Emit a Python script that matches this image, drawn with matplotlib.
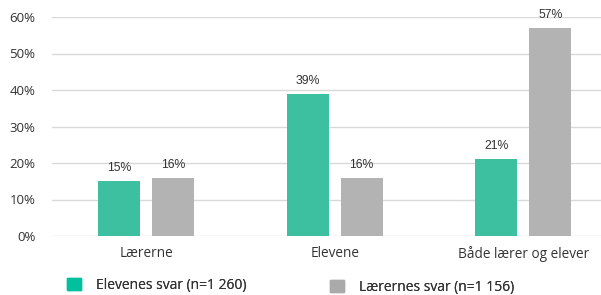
import matplotlib.pyplot as plt
from matplotlib.patches import Patch

categories = ["Lærerne", "Elevene", "Både lærer og elever"]
elever = [15, 39, 21]
laerere = [16, 16, 57]
series_names = ["Elevenes svar (n=1 260)", "Lærernes svar (n=1 156)"]

green = "#3cc09f"
grey = "#b3b3b3"
text_col = "#333333"

plt.rcParams['font.family'] = ['Open Sans', 'DejaVu Sans']

fig = plt.figure(figsize=(6.01, 2.95), dpi=100)
ax = fig.add_axes([52 / 601, 59 / 295, 565.5 / 601, 219 / 295])

x = range(len(categories))
w = 0.223
off = 0.143
b1 = ax.bar([i - off for i in x], elever, w, color=green, zorder=3)
b2 = ax.bar([i + off for i in x], laerere, w, color=grey, zorder=3)

for bars in (b1, b2):
	for r in bars:
		ax.text(r.get_x() + r.get_width() / 2, r.get_height() + 1.9, "%d%%" % r.get_height(),
				ha="center", va="bottom", fontsize=8.8, color=text_col, family="Liberation Sans")

ax.set_xlim(-0.5, 2.5)
ax.set_ylim(0, 60)
ax.set_yticks(range(0, 61, 10))
ax.set_yticklabels(["%d%%" % v for v in range(0, 61, 10)])
ax.set_xticks(list(x))
ax.set_xticklabels(categories)
ax.tick_params(axis="y", length=0, pad=12, labelsize=9.5, labelcolor=text_col)
ax.tick_params(axis="x", length=0, pad=7, labelsize=9.8, labelcolor=text_col)
ax.grid(axis="y", color="#d9d9d9", lw=1, zorder=0)
for s in ax.spines.values():
	s.set_visible(False)

# two legend entries, placed separately like in the original
leg_cols = ["#00c09e", "#aaaaaa"]
leg_pos = [(67 / 601, 10 / 295), (330 / 601, 8 / 295)]
for c, name, pos in zip(leg_cols, series_names, leg_pos):
	lg = fig.legend([Patch(color=c)], [name], loc="center left", bbox_to_anchor=pos,
			   frameon=False, fontsize=10, handlelength=1.0, handleheight=1.0,
			   handletextpad=1.1, borderpad=0, borderaxespad=0, labelcolor=text_col)
	fig.add_artist(lg)

fig.savefig("out.png", dpi=100)
